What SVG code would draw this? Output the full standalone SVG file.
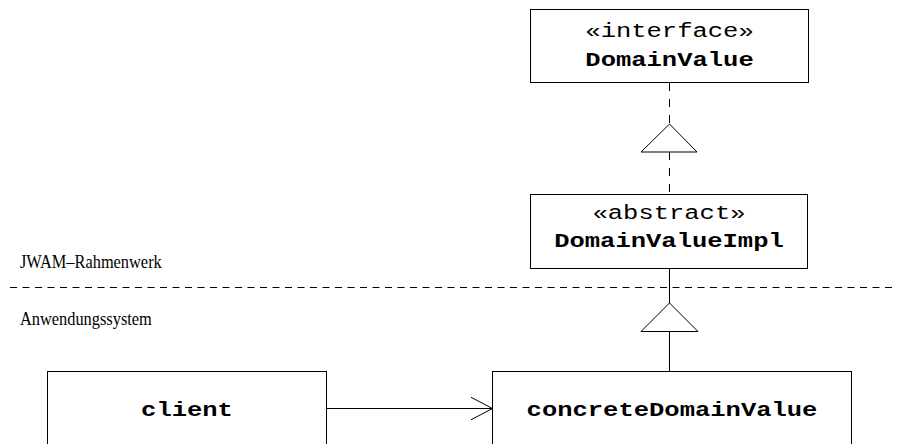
<svg xmlns="http://www.w3.org/2000/svg" width="897" height="444" viewBox="0 0 897 444">
  <style>
    .box { fill: #fff; stroke: #000; stroke-width: 1; }
    .line { fill: none; stroke: #000; stroke-width: 1; }
    .dash { fill: none; stroke: #000; stroke-width: 1; stroke-dasharray: 8 8; }
    .sep { fill: none; stroke: #000; stroke-width: 1; stroke-dasharray: 7 5.5; }
    .tri { fill: #fff; stroke: #000; stroke-width: 1; }
    .mono { font-family: "Liberation Mono", "Courier New", monospace; font-size: 21px; text-anchor: middle; fill: #000; }
    .b { font-weight: bold; }
    .serif { font-family: "Liberation Serif", "Times New Roman", serif; font-size: 18px; fill: #000; }
  </style>
  <defs>
    <marker id="open-arrow" markerWidth="24" markerHeight="24" refX="22" refY="12" orient="auto" markerUnits="userSpaceOnUse">
      <path d="M0,0.5 L22,12 L0,23.5" fill="none" stroke="#000" stroke-width="1"/>
    </marker>
  </defs>

  <!-- layer separator -->
  <g id="layers">
    <line class="sep" x1="10" y1="287.5" x2="897" y2="287.5"/>
    <text class="serif" transform="translate(20,268) scale(0.91,1)">JWAM–Rahmenwerk</text>
    <text class="serif" transform="translate(20,325) scale(0.91,1)">Anwendungssystem</text>
  </g>

  <g id="connectors">
    <!-- realization: DomainValueImpl -> DomainValue -->
    <line class="dash" x1="669.5" y1="83" x2="669.5" y2="124"/>
    <line class="dash" x1="669.5" y1="152" x2="669.5" y2="194"/>
    <polygon class="tri" points="669.5,124 641,152 697,152"/>
    <!-- generalization: concreteDomainValue -> DomainValueImpl -->
    <line class="line" x1="669.5" y1="268" x2="669.5" y2="303"/>
    <line class="line" x1="669.5" y1="331.5" x2="669.5" y2="371"/>
    <polygon class="tri" points="669.5,303 641,331.5 698,331.5"/>
    <!-- association: client -> concreteDomainValue -->
    <line class="line" x1="326.5" y1="408.5" x2="492.5" y2="408.5" marker-end="url(#open-arrow)"/>
  </g>

  <g id="DomainValue">
    <rect class="box" x="530.5" y="9.5" width="278" height="73"/>
    <text class="mono" transform="translate(669.5,37) scale(1.215,1)">«interface»</text>
    <text class="mono b" transform="translate(669.5,66) scale(1.215,1)">DomainValue</text>
  </g>

  <g id="DomainValueImpl">
    <rect class="box" x="530.5" y="194.5" width="277" height="74"/>
    <text class="mono" transform="translate(669,219) scale(1.215,1)">«abstract»</text>
    <text class="mono b" transform="translate(669,247) scale(1.215,1)">DomainValueImpl</text>
  </g>

  <g id="client">
    <rect class="box" x="47.5" y="371.5" width="279" height="100"/>
    <text class="mono b" transform="translate(187,416) scale(1.215,1)">client</text>
  </g>

  <g id="concreteDomainValue">
    <rect class="box" x="492.5" y="371.5" width="359" height="100"/>
    <text class="mono b" transform="translate(672,416) scale(1.215,1)">concreteDomainValue</text>
  </g>
</svg>
